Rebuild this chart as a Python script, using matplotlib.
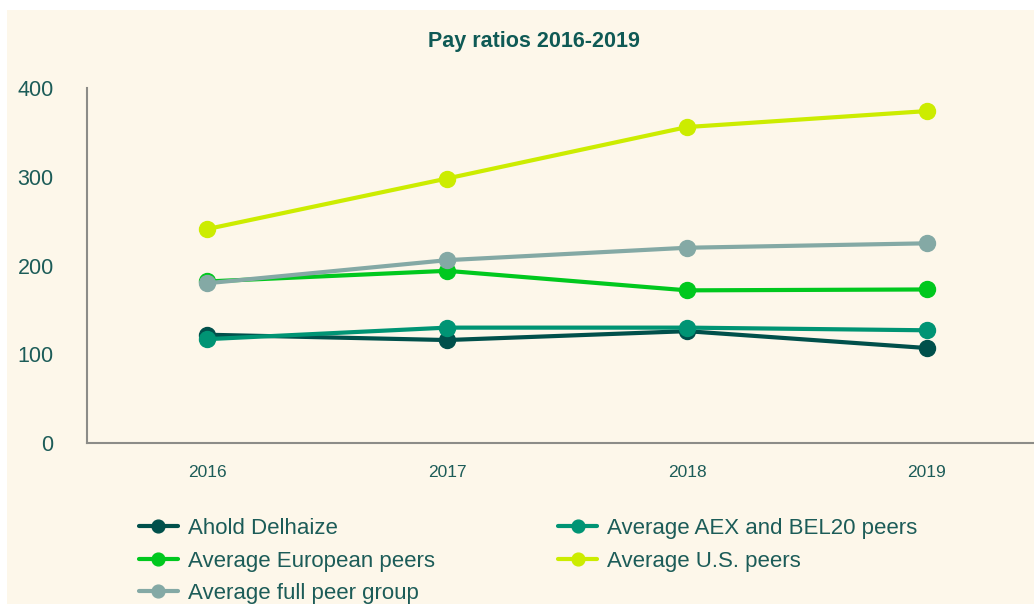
import matplotlib
matplotlib.use("Agg")
import matplotlib.pyplot as plt
from matplotlib.patches import Rectangle

# Chart data
years = ["2016", "2017", "2018", "2019"]
ahold_delhaize = [122, 116, 126, 107]
aex_bel20_peers = [117, 130, 130, 127]
european_peers = [182, 194, 172, 173]
us_peers = [241, 298, 356, 374]
full_peer_group = [180, 206, 220, 225]

series_names = [
    "Ahold Delhaize",
    "Average AEX and BEL20 peers",
    "Average European peers",
    "Average U.S. peers",
    "Average full peer group",
]
series_values = [ahold_delhaize, aex_bel20_peers, european_peers, us_peers, full_peer_group]
series_colors = ["#00504b", "#009474", "#00c81e", "#ccec00", "#84a9a5"]

TEXT_COLOR = "#1c5c58"
BG_COLOR = "#fdf7ea"

plt.rcParams["font.family"] = ["Liberation Sans", "DejaVu Sans"]

fig = plt.figure(figsize=(10.34, 6.04), dpi=100)
fig.patch.set_facecolor("white")
# cream panel behind everything
fig.add_artist(Rectangle((7 / 1034, 0), 1, 1 - 10 / 604, transform=fig.transFigure,
                         facecolor=BG_COLOR, edgecolor="none", zorder=-10))

ax = fig.add_axes([87 / 1034, 1 - 443 / 604, 1 - 87 / 1034, (443 - 88) / 604])
ax.set_facecolor("none")

x = list(range(len(years)))
lines = []
for name, vals, color in zip(series_names, series_values, series_colors):
    (ln,) = ax.plot(x, vals, color=color, linewidth=3, marker="o", markersize=11.5,
                    label=name, solid_capstyle="round")
    lines.append(ln)

ax.set_xlim(-0.5, 3.446)
ax.set_ylim(0, 400)
ax.set_yticks([0, 100, 200, 300, 400])
ax.set_xticks(x)
ax.set_xticklabels(years)

for side in ["top", "right"]:
    ax.spines[side].set_visible(False)
for side in ["left", "bottom"]:
    ax.spines[side].set_color("#8c8c88")
    ax.spines[side].set_linewidth(1.5)

ax.tick_params(axis="y", length=0, pad=24, labelsize=15.5, labelcolor=TEXT_COLOR)
ax.tick_params(axis="x", length=0, pad=16, labelsize=12.5, labelcolor=TEXT_COLOR)

fig.text(534 / 1034, 1 - 41 / 604, "Pay ratios 2016-2019", ha="center", va="center",
         fontsize=15.5, fontweight="bold", color="#0f5a55")

# legend fills column-wise, so reorder to get the row layout of the reference
order = [0, 2, 4, 1, 3]
leg = fig.legend([lines[i] for i in order], [series_names[i] for i in order],
                 loc="upper left", bbox_to_anchor=(139 / 1034, 1 - 518 / 604),
                 ncol=2, frameon=False, fontsize=16, handlelength=1.75,
                 handletextpad=0.45, columnspacing=5.55, labelspacing=0.52,
                 borderpad=0, borderaxespad=0, markerscale=0.8)
for t in leg.get_texts():
    t.set_color(TEXT_COLOR)

fig.savefig("out.png", dpi=100, facecolor=fig.get_facecolor())
